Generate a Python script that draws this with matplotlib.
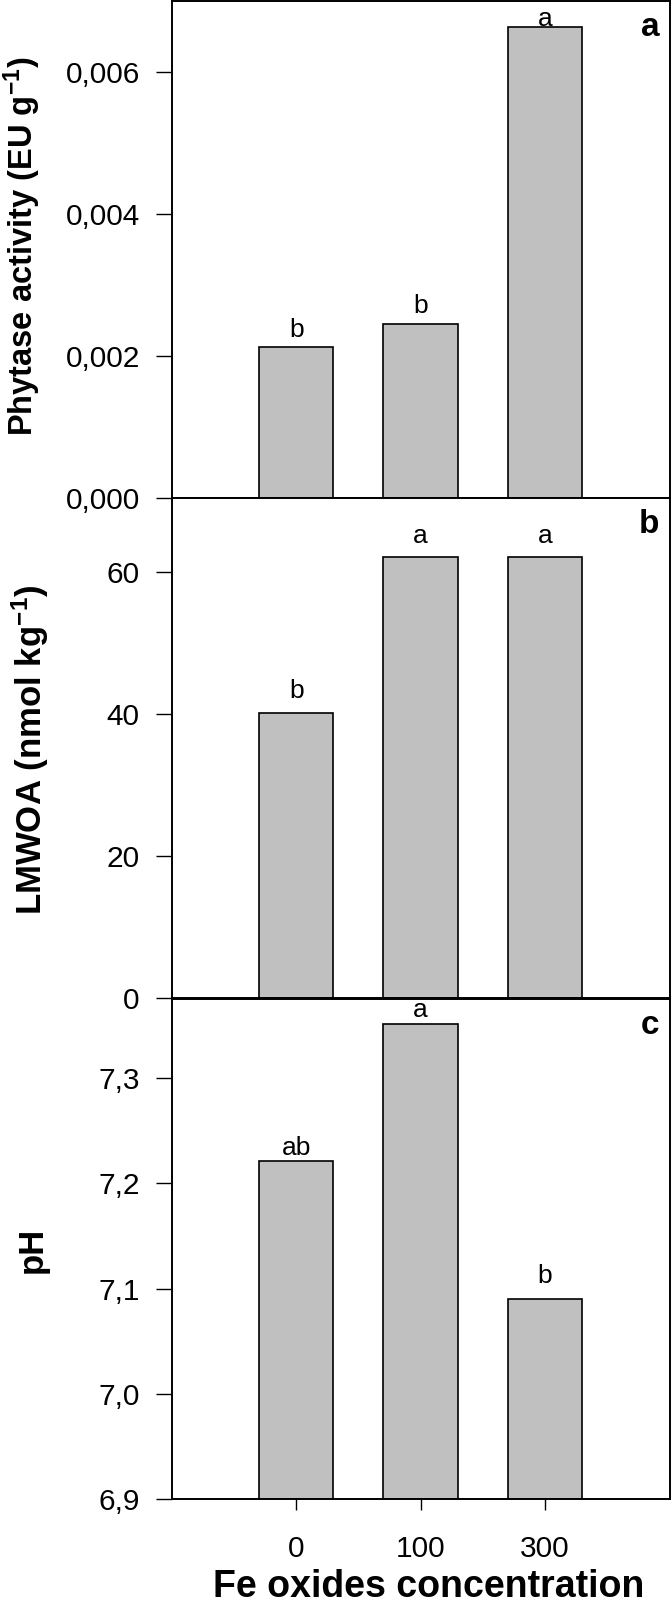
import matplotlib
matplotlib.use("Agg")
import matplotlib.pyplot as plt
from matplotlib.ticker import FixedLocator, FuncFormatter

plt.rcParams['font.family'] = ['Liberation Sans', 'DejaVu Sans']
plt.rcParams['mathtext.fontset'] = 'custom'
plt.rcParams['mathtext.rm'] = 'Liberation Sans:bold'
plt.rcParams['mathtext.it'] = 'Liberation Sans:bold'
plt.rcParams['mathtext.bf'] = 'Liberation Sans:bold'
plt.rcParams['mathtext.default'] = 'rm'

# ---- data ----
categories = ["0", "100", "300"]
phytase = [0.00213, 0.00245, 0.00664]
phytase_letters = ["b", "b", "a"]
lmwoa = [40.1, 62.0, 62.0]
lmwoa_letters = ["b", "a", "a"]
ph = [7.221, 7.351, 7.090]
ph_letters = ["ab", "a", "b"]

phytase_ticks = [0.000, 0.002, 0.004, 0.006]
lmwoa_ticks = [0, 20, 40, 60]
ph_ticks = [6.9, 7.0, 7.1, 7.2, 7.3]

W, H = 671, 1605
fig = plt.figure(figsize=(W / 100, H / 100), dpi=100)

left_px, right_px = 171.7, 669.5
panels_px = [(1.0, 498.3), (498.3, 998.3), (999.0, 1499.3)]


def make_ax(top, bottom):
    return fig.add_axes([left_px / W, 1 - bottom / H,
                         (right_px - left_px) / W, (bottom - top) / H])


axes = [make_ax(t, b) for t, b in panels_px]

panel_data = [
    (phytase, phytase_letters, (0, 0.007), phytase_ticks, "{:.3f}",
     [7.0, 8.0, 0.3], "a"),
    (lmwoa, lmwoa_letters, (0, 70.3), lmwoa_ticks, "{:.0f}",
     [11.0, 10.0, 10.0], "b"),
    (ph, ph_letters, (6.9, 7.375), ph_ticks, "{:.1f}",
     [4.5, 5.0, 11.5], "c"),
]

xpos = list(range(len(categories)))
for ax, (vals, letters, ylim, ticks, fmt, pads, tag) in zip(axes, panel_data):
    base = ylim[0]
    ax.bar(xpos, [v - base for v in vals], bottom=base, width=0.6,
           color="#c0c0c0", edgecolor="black", linewidth=1.2, zorder=2)
    ax.set_xlim(-1, 3)
    ax.set_ylim(*ylim)
    ax.yaxis.set_major_locator(FixedLocator(ticks))
    ax.yaxis.set_major_formatter(
        FuncFormatter(lambda v, p, f=fmt: f.format(v).replace(".", ",")))
    ax.tick_params(axis="y", direction="out", length=11.5, width=1.0,
                   pad=11.5, labelsize=21.5)
    for s in ax.spines.values():
        s.set_linewidth(1.4)
    for x, v, lab, pd in zip(xpos, vals, letters, pads):
        ax.annotate(lab, (x, v), xytext=(0, pd), textcoords="offset points",
                    ha="center", va="baseline", fontsize=19)
    ax.text(1 - 10 / (right_px - left_px), 1 - 11 / 500, tag,
            transform=ax.transAxes, ha="right", va="top",
            fontsize=24, fontweight="bold")

for ax in axes[:2]:
    ax.set_xticks([])
axes[2].set_xticks(xpos)
axes[2].set_xticklabels(categories)
axes[2].tick_params(axis="x", direction="out", length=8, width=1.0,
                    pad=18, labelsize=21.5)

ylabels = [r"Phytase activity (EU g$^{-1}$)",
           r"LMWOA (nmol kg$^{-1}$)",
           "pH"]
label_x_px = [33, 42, 42]
label_y_px = [246, 750, 1250]
label_sizes = [23.5, 25, 25]
for lab, lx, ly, fs in zip(ylabels, label_x_px, label_y_px, label_sizes):
    fig.text(lx / W, 1 - ly / H, lab, rotation=90,
             rotation_mode="anchor", ha="center", va="baseline",
             fontsize=fs, fontweight="bold")

fig.text(429 / W, 1 - 1597 / H,
         "Fe oxides concentration", ha="center", va="baseline",
         fontsize=27, fontweight="bold")

fig.savefig("out.png", dpi=100)
